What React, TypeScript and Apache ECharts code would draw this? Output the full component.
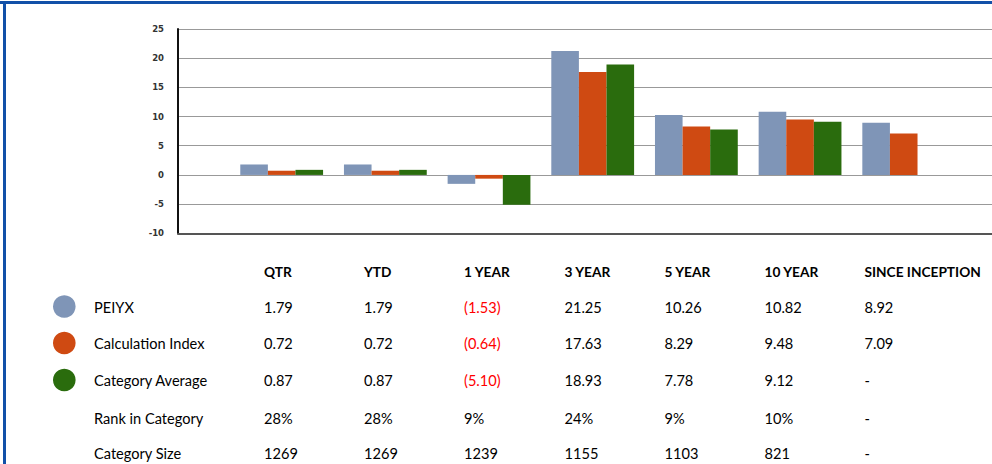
import React, { useEffect, useRef } from "react";
import * as echarts from "echarts";

const categories = ["", "QTR", "YTD", "1 YEAR", "3 YEAR", "5 YEAR", "10 YEAR", "SINCE INCEPTION", ""];
const seriesNames = ["PEIYX", "Calculation Index", "Category Average"];
const peiyx = [1.79, 1.79, -1.53, 21.25, 10.26, 10.82, 8.92];
const calcIndex = [0.72, 0.72, -0.64, 17.63, 8.29, 9.48, 7.09];
const catAverage: (number | null)[] = [0.87, 0.87, -5.1, 18.93, 7.78, 9.12, null];
const rankInCategory = ["28%", "28%", "9%", "24%", "9%", "10%", "-"];
const categorySize = ["1269", "1269", "1239", "1155", "1103", "821", "-"];
const colors = ["#7f95b7", "#cf4a12", "#2a6c0d"];

const fmt = (v: number | null) =>
  v === null ? "-" : v < 0 ? `(${Math.abs(v).toFixed(2)})` : v.toFixed(2);

export default function App() {
  const ref = useRef<HTMLDivElement>(null);
  useEffect(() => {
    if (!ref.current) return;
    const chart = echarts.init(ref.current, null, { renderer: "svg" });
    const font = "Lato, 'Open Sans', sans-serif";
    const colX = [264, 364, 464, 564.5, 664.5, 764.5, 864.5];
    const headerY = 271;
    const rowY = [307, 343.5, 380.5, 418, 453];
    const bodySize = 14.6;
    const headSize = 13.7;
    const graphics: any[] = [];
    // border
    graphics.push({ type: "rect", shape: { x: 0, y: 1, width: 992, height: 3 }, style: { fill: "#1150a8" }, silent: true });
    graphics.push({ type: "rect", shape: { x: 3, y: 1, width: 3, height: 463 }, style: { fill: "#1150a8" }, silent: true });
    // headers
    categories.slice(1, 8).forEach((c, i) => {
      graphics.push({
        type: "text",
        x: colX[i],
        y: headerY,
        style: { text: c, fill: "#000", fontSize: headSize, fontWeight: "bold", fontFamily: font, textAlign: "left", textVerticalAlign: "middle" },
      });
    });
    const rows: { label: string; vals: string[]; raw?: (number | null)[]; color?: string }[] = [
      { label: seriesNames[0], vals: peiyx.map(fmt), raw: peiyx, color: colors[0] },
      { label: seriesNames[1], vals: calcIndex.map(fmt), raw: calcIndex, color: colors[1] },
      { label: seriesNames[2], vals: catAverage.map(fmt), raw: catAverage, color: colors[2] },
      { label: "Rank in Category", vals: rankInCategory },
      { label: "Category Size", vals: categorySize },
    ];
    rows.forEach((r, ri) => {
      if (r.color) {
        graphics.push({ type: "circle", shape: { cx: 64.3, cy: rowY[ri] - 0.5, r: 11.3 }, style: { fill: r.color } });
      }
      graphics.push({
        type: "text",
        x: 94,
        y: rowY[ri],
        style: { text: r.label, fill: "#000", fontSize: bodySize, fontFamily: font, textAlign: "left", textVerticalAlign: "middle" },
      });
      r.vals.forEach((v, ci) => {
        const rawV = r.raw ? r.raw[ci] : null;
        graphics.push({
          type: "text",
          x: colX[ci],
          y: rowY[ri],
          style: {
            text: v,
            fill: rawV !== null && rawV !== undefined && rawV < 0 ? "#ff0000" : "#000",
            fontSize: bodySize,
            fontFamily: font,
            textAlign: "left",
            textVerticalAlign: "middle",
          },
        });
      });
    });

    const pad = (a: (number | null)[]) => [null, ...a, null];

    chart.setOption({
      animation: false,
      grid: { left: 178, top: 29, height: 204.3, width: 829.4, containLabel: false, outerBoundsMode: "none" },
      xAxis: {
        type: "category",
        data: categories,
        boundaryGap: false,
        axisLine: { onZero: false, lineStyle: { color: "#555", width: 2 } },
        axisTick: { show: false },
        axisLabel: { show: false },
        splitLine: { show: false },
      },
      yAxis: {
        type: "value",
        min: -10,
        max: 25,
        interval: 5,
        axisLine: { show: true, lineStyle: { color: "#111", width: 2 } },
        axisTick: { show: false },
        axisLabel: { margin: 14, fontSize: 8.5, fontWeight: "bold", color: "#333", fontFamily: "'DejaVu Sans', sans-serif" },
        splitLine: { show: true, lineStyle: { color: "#999", width: 1 } },
      },
      series: [
        { name: seriesNames[0], type: "bar", data: pad(peiyx), barWidth: 27.6, barGap: "0%", itemStyle: { color: colors[0] } },
        { name: seriesNames[1], type: "bar", data: pad(calcIndex), barWidth: 27.6, barGap: "0%", itemStyle: { color: colors[1] } },
        { name: seriesNames[2], type: "bar", data: pad(catAverage), barWidth: 27.6, barGap: "0%", itemStyle: { color: colors[2] } },
      ],
      graphic: graphics,
    });
    return () => chart.dispose();
  }, []);
  return (
    <div
      ref={ref}
      style={{ position: "absolute", left: 0, top: 0, width: 992, height: 464, background: "#fff" }}
    />
  );
}
